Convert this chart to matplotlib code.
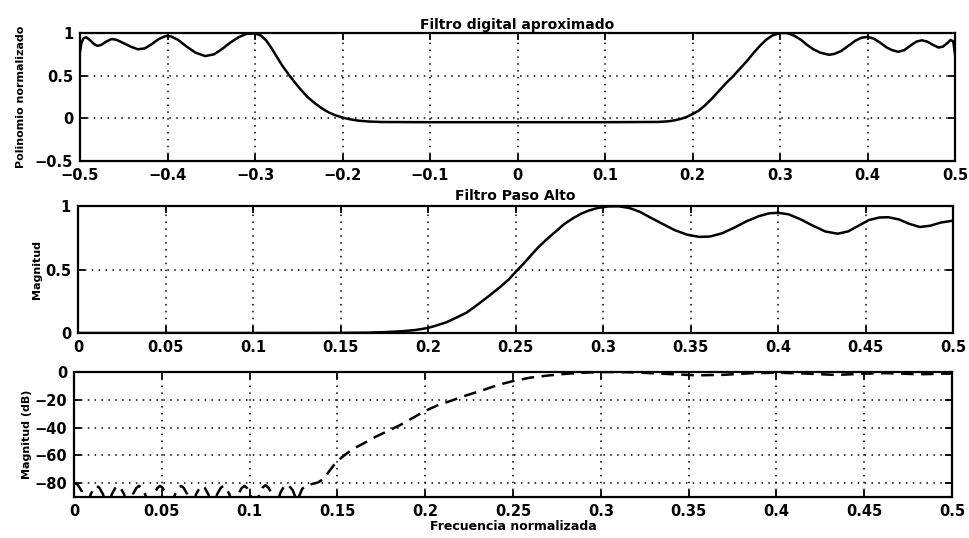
import matplotlib
matplotlib.use("Agg")
import matplotlib.pyplot as plt

# Filtro digital aproximado (polinomio normalizado), f en [-0.5, 0.5]
top_f = [-0.5, -0.4985, -0.496, -0.493, -0.489, -0.484, -0.480, -0.476, -0.470,
         -0.464, -0.458, -0.450, -0.442, -0.434, -0.426, -0.418, -0.410, -0.402,
         -0.396, -0.388, -0.378, -0.368, -0.357, -0.347, -0.338, -0.328, -0.319,
         -0.310, -0.300, -0.293, -0.287, -0.281, -0.275, -0.269, -0.262, -0.256,
         -0.248, -0.240, -0.232, -0.224, -0.216, -0.208, -0.200, -0.192, -0.182,
         -0.170, -0.155, -0.1, 0.0, 0.1, 0.160, 0.172, 0.180, 0.187, 0.194,
         0.200, 0.207, 0.214, 0.222, 0.230, 0.238, 0.246, 0.254, 0.262, 0.270,
         0.277, 0.284, 0.291, 0.297, 0.301, 0.308, 0.316, 0.324, 0.331, 0.338,
         0.346, 0.356, 0.362, 0.370, 0.378, 0.386, 0.393, 0.400, 0.407, 0.414,
         0.422, 0.428, 0.435, 0.442, 0.450, 0.456, 0.462, 0.468, 0.475, 0.481,
         0.486, 0.491, 0.495, 0.498, 0.5]
top_v = [0.78, 0.88, 0.94, 0.95, 0.92, 0.87, 0.85, 0.86, 0.90,
         0.93, 0.92, 0.88, 0.84, 0.81, 0.82, 0.87, 0.93, 0.965,
         0.96, 0.92, 0.84, 0.77, 0.73, 0.75, 0.81, 0.89, 0.95,
         0.99, 0.995, 0.97, 0.91, 0.82, 0.72, 0.62, 0.52, 0.44,
         0.34, 0.25, 0.18, 0.12, 0.07, 0.035, 0.01, -0.01, -0.027,
         -0.037, -0.043, -0.045, -0.045, -0.045, -0.042, -0.035, -0.022, -0.005, 0.02,
         0.05, 0.09, 0.15, 0.23, 0.32, 0.41, 0.49, 0.58, 0.67, 0.77,
         0.85, 0.92, 0.97, 0.99, 1.0, 1.0, 0.97, 0.92, 0.86, 0.81,
         0.77, 0.745, 0.755, 0.79, 0.85, 0.91, 0.945, 0.955, 0.935, 0.89,
         0.83, 0.80, 0.78, 0.80, 0.86, 0.90, 0.915, 0.90, 0.86, 0.83,
         0.84, 0.88, 0.92, 0.90, 0.75]

# Filtro Paso Alto (magnitud lineal), f en [0, 0.5]
mid_f = [0.0, 0.1, 0.15, 0.165, 0.175, 0.185, 0.193, 0.200, 0.205, 0.2106,
         0.216, 0.222, 0.228, 0.2337, 0.241, 0.246, 0.250, 0.2545, 0.2587, 0.263,
         0.268, 0.273, 0.278, 0.283, 0.2875, 0.292, 0.297, 0.303, 0.309, 0.315,
         0.321, 0.327, 0.334, 0.341, 0.348, 0.355, 0.361, 0.368, 0.375, 0.382,
         0.389, 0.395, 0.400, 0.406, 0.413, 0.420, 0.427, 0.434, 0.440, 0.446,
         0.452, 0.458, 0.463, 0.469, 0.475, 0.481, 0.487, 0.493, 0.5]
mid_v = [0.0, 0.0, 0.001, 0.003, 0.007, 0.014, 0.024, 0.04, 0.06, 0.085,
         0.12, 0.16, 0.22, 0.28, 0.36, 0.42, 0.48, 0.545, 0.61, 0.675,
         0.74, 0.80, 0.86, 0.905, 0.94, 0.965, 0.985, 0.997, 0.998, 0.985,
         0.955, 0.91, 0.86, 0.81, 0.775, 0.757, 0.76, 0.785, 0.83, 0.88,
         0.92, 0.943, 0.947, 0.935, 0.895, 0.845, 0.80, 0.782, 0.80, 0.845,
         0.89, 0.91, 0.912, 0.895, 0.86, 0.835, 0.845, 0.87, 0.885]

# Magnitud (dB), f en [0, 0.5]
db_f = [0.0, 0.002, 0.0045, 0.007,
        0.0095, 0.0115, 0.013, 0.0145, 0.0165, 0.019,
        0.0215, 0.0235, 0.025, 0.0265, 0.0285, 0.031,
        0.0335, 0.0355, 0.037, 0.0385, 0.0405, 0.043,
        0.0455, 0.0475, 0.049, 0.0505, 0.0525, 0.055,
        0.0575, 0.0595, 0.061, 0.0625, 0.0645, 0.067,
        0.0695, 0.0715, 0.073, 0.0745, 0.0765, 0.079,
        0.0815, 0.0835, 0.085, 0.0865, 0.0885, 0.091,
        0.0935, 0.0955, 0.097, 0.0985, 0.1005, 0.103,
        0.1055, 0.1075, 0.109, 0.1105, 0.1125, 0.115,
        0.1175, 0.1195, 0.121, 0.1225, 0.1245, 0.127,
        0.130, 0.133, 0.136, 0.139, 0.142, 0.145, 0.148, 0.152, 0.156,
        0.161, 0.167, 0.172, 0.177, 0.186, 0.193, 0.200, 0.207, 0.214,
        0.223, 0.233, 0.241, 0.250, 0.260, 0.270, 0.280, 0.290, 0.300,
        0.310, 0.320, 0.335, 0.355, 0.370, 0.385, 0.400, 0.415, 0.434,
        0.450, 0.463, 0.481, 0.5]
db_v = [-80, -81, -86, -100,
        -88, -83.5, -82, -83.5, -88, -100,
        -88, -83.5, -82, -83.5, -88, -100,
        -88, -83.5, -82, -83.5, -88, -100,
        -88, -83.5, -82, -83.5, -88, -100,
        -88, -83.5, -82, -83.5, -88, -100,
        -88, -83.5, -82, -83.5, -88, -100,
        -88, -83.5, -82, -83.5, -88, -100,
        -88, -83.5, -82, -83.5, -88, -100,
        -88, -83, -81.5, -83, -87, -98,
        -87, -82.5, -81, -82, -85, -93,
        -84, -81.5, -80.5, -79.5, -77, -72, -67, -62, -58,
        -54, -50, -46.5, -43.5, -38, -33, -28, -24, -21,
        -17, -13, -9.5, -6.5, -4.0, -2.5, -1.3, -0.5, 0.0,
        0.0, -0.3, -1.2, -2.4, -2.0, -0.9, -0.5, -1.0, -2.1,
        -1.2, -0.8, -1.6, -1.1]

xt_top = [-0.5, -0.4, -0.3, -0.2, -0.1, 0, 0.1, 0.2, 0.3, 0.4, 0.5]
xt_top_lab = ['\u22120.5', '\u22120.4', '\u22120.3', '\u22120.2', '\u22120.1',
              '0', '0.1', '0.2', '0.3', '0.4', '0.5']
xt_half = [0, 0.05, 0.1, 0.15, 0.2, 0.25, 0.3, 0.35, 0.4, 0.45, 0.5]
xt_half_lab = ['0', '0.05', '0.1', '0.15', '0.2', '0.25', '0.3', '0.35',
               '0.4', '0.45', '0.5']

plt.rcParams['font.family'] = ['DejaVu Sans']
plt.rcParams['font.weight'] = 'bold'

fig = plt.figure(figsize=(9.69, 5.38), dpi=100)

ax1 = fig.add_axes([0.0826, 0.7007, 0.903, 0.2379])
ax2 = fig.add_axes([0.0805, 0.381, 0.903, 0.236])
ax3 = fig.add_axes([0.0764, 0.0762, 0.906, 0.2323])


def style(ax):
    ax.grid(True, color='black', linestyle=(0, (1, 3.5)), linewidth=1.1)
    ax.tick_params(direction='in', top=True, right=True, length=5, width=1.3,
                   labelsize=10.5, pad=5)
    for lab in ax.get_xticklabels() + ax.get_yticklabels():
        lab.set_fontweight('bold')
    for sp in ax.spines.values():
        sp.set_linewidth(1.6)


ax1.plot(top_f, top_v, color='black', linewidth=1.8)
ax1.set_xlim(-0.5, 0.5)
ax1.set_ylim(-0.5, 1)
ax1.set_xticks(xt_top)
ax1.set_xticklabels(xt_top_lab)
ax1.set_yticks([-0.5, 0, 0.5, 1])
ax1.set_yticklabels(['\u22120.5', '0', '0.5', '1'])
ax1.set_title('Filtro digital aproximado', fontsize=10, fontweight='bold', pad=3)
ax1.set_ylabel('Polinomio normalizado', fontsize=8, fontweight='bold', labelpad=6)
style(ax1)

ax2.plot(mid_f, mid_v, color='black', linewidth=1.8)
ax2.set_xlim(0, 0.5)
ax2.set_ylim(0, 1)
ax2.set_xticks(xt_half)
ax2.set_xticklabels(xt_half_lab)
ax2.set_yticks([0, 0.5, 1])
ax2.set_yticklabels(['0', '0.5', '1'])
ax2.set_title('Filtro Paso Alto', fontsize=10, fontweight='bold', pad=4)
ax2.set_ylabel('Magnitud', fontsize=8, fontweight='bold', labelpad=2)
style(ax2)

ax3.plot(db_f, db_v, color='black', linewidth=1.8, linestyle=(0, (5, 3)))
ax3.set_xlim(0, 0.5)
ax3.set_ylim(-90, 0)
ax3.set_xticks(xt_half)
ax3.set_xticklabels(xt_half_lab)
ax3.set_yticks([-80, -60, -40, -20, 0])
ax3.set_yticklabels(['\u221280', '\u221260', '\u221240', '\u221220', '0'])
ax3.set_ylabel('Magnitud (dB)', fontsize=8, fontweight='bold', labelpad=2)
ax3.set_xlabel('Frecuencia normalizada', fontsize=9, fontweight='bold', labelpad=1)
style(ax3)

fig.savefig('out.png', dpi=100)
